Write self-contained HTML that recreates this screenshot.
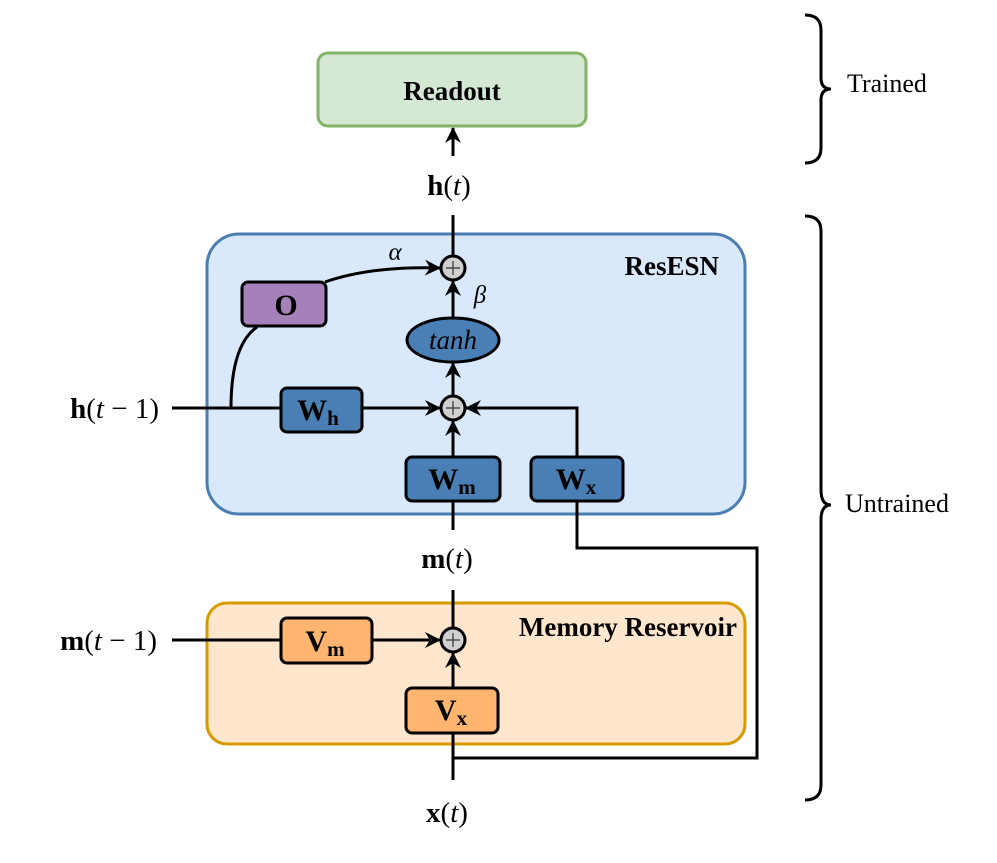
<!DOCTYPE html>
<html><head><meta charset="utf-8"><style>
html,body{margin:0;padding:0;background:#fff}
svg{display:block}
</style></head><body>
<svg width="997" height="863" viewBox="0 0 997 863" xmlns="http://www.w3.org/2000/svg" font-family="Liberation Serif, Times New Roman, serif">
<defs>
<marker id="b" markerWidth="16" markerHeight="16" refX="15" refY="8" orient="auto" markerUnits="userSpaceOnUse">
<path d="M0,0 L16,8 L0,16 L5,8 Z" fill="#000"/>
</marker>
</defs>
<g stroke="#000" stroke-width="3" fill="none">
<path d="M805,15 Q821,15 821,30 L821,78 Q821,89 831,89 Q821,89 821,100 L821,148 Q821,163 805,163"/>
<path d="M805,216 Q821,216 821,231 L821,490 Q821,505 831,505 Q821,505 821,520 L821,785 Q821,800 805,800"/>
</g>
<rect x="318" y="53" width="268" height="73" rx="10" fill="#d5e8d4" stroke="#82b366" stroke-width="3"/>
<text x="452" y="100" font-size="27" font-weight="bold" text-anchor="middle">Readout</text>
<rect x="207" y="234" width="538" height="280" rx="32" fill="#dae8fc" stroke="#4a7eb0" stroke-width="3"/>
<text x="719" y="275" font-size="27" font-weight="bold" text-anchor="end">ResESN</text>
<rect x="207" y="603" width="538" height="141" rx="20" fill="#ffe6cc" stroke="#d79b00" stroke-width="3"/>
<text x="737" y="636" font-size="27" font-weight="bold" text-anchor="end">Memory Reservoir</text>

<g stroke="#000" stroke-width="3" fill="none">
<line x1="453" y1="156" x2="453" y2="128" marker-end="url(#b)"/>
<line x1="453" y1="215" x2="453" y2="256"/>
<path d="M325,282 Q370,266 440,268" marker-end="url(#b)"/>
<path d="M231,408 Q231,345 257,327"/>
<line x1="453" y1="318" x2="453" y2="281" marker-end="url(#b)"/>
<line x1="453" y1="397" x2="453" y2="363" marker-end="url(#b)"/>
<line x1="172" y1="408" x2="281" y2="408"/>
<line x1="362" y1="408" x2="440" y2="408" marker-end="url(#b)"/>
<line x1="453" y1="457" x2="453" y2="421" marker-end="url(#b)"/>
<polyline points="577,457 577,408 466,408" marker-end="url(#b)"/>
<line x1="453" y1="501" x2="453" y2="530"/>
<line x1="453" y1="590" x2="453" y2="628"/>
<line x1="172" y1="640" x2="281" y2="640"/>
<line x1="372" y1="640" x2="440" y2="640" marker-end="url(#b)"/>
<line x1="453" y1="688" x2="453" y2="653" marker-end="url(#b)"/>
<line x1="453" y1="780" x2="453" y2="733"/>
<polyline points="577,501 577,548 757,548 757,758 453,758"/>
</g>
<g stroke="#000" stroke-width="3" fill="#d0d0d0">
<circle cx="453" cy="268" r="12"/>
<circle cx="453" cy="408" r="12"/>
<circle cx="453" cy="640" r="12"/>
</g>
<g stroke="#333" stroke-width="1.2">
<path d="M446,268 h14 M453,261 v14"/>
<path d="M446,408 h14 M453,401 v14"/>
<path d="M446,640 h14 M453,633 v14"/>
</g>
<g stroke="#000" stroke-width="3">
<rect x="242" y="282" width="84" height="44" rx="6" fill="#a680b8"/>
<rect x="281" y="388" width="81" height="44" rx="6" fill="#4a7fb5"/>
<rect x="406" y="457" width="94" height="44" rx="6" fill="#4a7fb5"/>
<rect x="531" y="457" width="92" height="44" rx="6" fill="#4a7fb5"/>
<rect x="281" y="618" width="91" height="45" rx="6" fill="#ffb570"/>
<rect x="406" y="688" width="92" height="45" rx="6" fill="#ffb570"/>
<ellipse cx="453" cy="340" rx="46" ry="22" fill="#4a7fb5"/>
</g>
<g font-weight="bold" font-size="30">
<text x="286" y="315" text-anchor="middle">O</text>
<text x="318" y="420" text-anchor="middle">W<tspan font-size="21" dy="5">h</tspan></text>
<text x="452" y="489" text-anchor="middle">W<tspan font-size="21" dy="5">m</tspan></text>
<text x="576" y="489" text-anchor="middle">W<tspan font-size="21" dy="5">x</tspan></text>
<text x="325" y="651" text-anchor="middle">V<tspan font-size="21" dy="5">m</tspan></text>
<text x="451" y="720" text-anchor="middle">V<tspan font-size="21" dy="5">x</tspan></text>
</g>
<text x="453" y="349" font-size="27" font-style="italic" text-anchor="middle">tanh</text>
<text x="395" y="260" font-size="25" font-style="italic" text-anchor="middle">α</text>
<text x="480" y="303" font-size="25" font-style="italic" text-anchor="middle">β</text>
<g font-size="29">
<text x="449" y="195" text-anchor="middle"><tspan font-weight="bold">h</tspan>(<tspan font-style="italic">t</tspan>)</text>
<text x="447" y="568" text-anchor="middle"><tspan font-weight="bold">m</tspan>(<tspan font-style="italic">t</tspan>)</text>
<text x="447" y="822" text-anchor="middle"><tspan font-weight="bold">x</tspan>(<tspan font-style="italic">t</tspan>)</text>
<text x="159" y="418" text-anchor="end"><tspan font-weight="bold">h</tspan>(<tspan font-style="italic">t</tspan> − 1)</text>
<text x="157" y="650" text-anchor="end"><tspan font-weight="bold">m</tspan>(<tspan font-style="italic">t</tspan> − 1)</text>
</g>
<text x="847" y="92" font-size="26">Trained</text>
<text x="845" y="512" font-size="26">Untrained</text>
</svg>
</body></html>
